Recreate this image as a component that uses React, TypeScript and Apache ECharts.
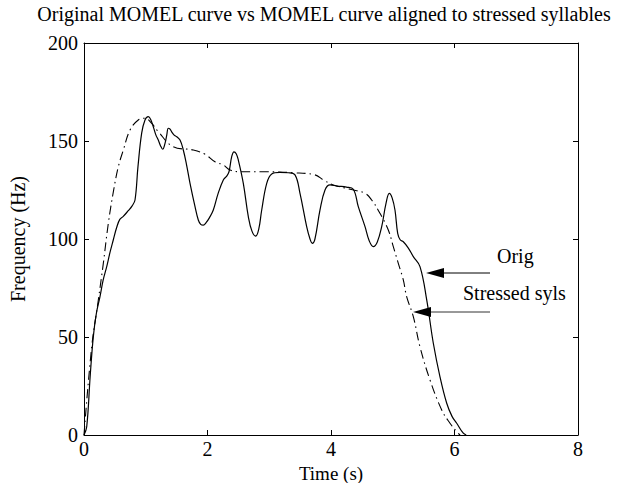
import React, { useEffect, useRef } from "react";
import * as echarts from "echarts";

const titleText = "Original MOMEL curve vs MOMEL curve aligned to stressed syllables";
const xTicks = [0, 2, 4, 6, 8];
const yTicks = [0, 50, 100, 150, 200];

// Original MOMEL curve (solid)
const origX = [0, 0.044, 0.1, 0.151, 0.2, 0.259, 0.31, 0.368, 0.42, 0.474, 0.53, 0.58, 0.632, 0.713, 0.777, 0.826, 0.874, 0.934, 0.988, 1.041, 1.08, 1.122, 1.165, 1.203, 1.24, 1.274, 1.312, 1.34, 1.365, 1.39, 1.42, 1.46, 1.501, 1.555, 1.608, 1.66, 1.717, 1.798, 1.851, 1.89, 1.932, 1.98, 2.03, 2.094, 2.17, 2.256, 2.311, 2.348, 2.392, 2.429, 2.465, 2.499, 2.58, 2.661, 2.72, 2.781, 2.83, 2.878, 2.959, 3.04, 3.17, 3.309, 3.417, 3.498, 3.606, 3.66, 3.697, 3.74, 3.822, 3.903, 3.984, 4.1, 4.25, 4.361, 4.442, 4.551, 4.62, 4.685, 4.75, 4.821, 4.89, 4.944, 4.99, 5.036, 5.08, 5.12, 5.171, 5.25, 5.333, 5.441, 5.55, 5.657, 5.765, 5.874, 5.96, 6.036, 6.142, 6.19];
const origY = [0, 4.2, 30, 50.2, 62, 70.6, 79, 85.9, 93, 99.5, 106, 110, 111.4, 114.3, 116.8, 119.9, 136.9, 154, 160.7, 162.4, 161, 157.3, 153, 150.5, 147.5, 145.8, 148.8, 153, 156.5, 156.2, 154.7, 153, 152.2, 150.5, 145.4, 138, 128.4, 116.5, 109.7, 107.5, 107.1, 108.5, 110.8, 114.8, 123, 130.1, 132.1, 134.3, 142, 144.5, 143.5, 140.3, 128.4, 111.4, 104, 101.5, 105, 114.8, 128.4, 133.2, 134, 133.8, 132.7, 123.3, 106.3, 100, 97.8, 100, 114.8, 125, 127.6, 127, 126.5, 125.4, 116.5, 106.3, 99, 96.1, 98.5, 106.3, 118, 123.3, 121, 114.8, 102.9, 99.6, 98.6, 95.5, 91, 85.9, 68.9, 46.8, 29.7, 16.2, 9.5, 6, 0.9, 0];

// MOMEL curve aligned to stressed syllables (dash-dot)
const stressX = [0, 0.125, 0.232, 0.313, 0.394, 0.475, 0.556, 0.637, 0.745, 0.879, 0.988, 1.096, 1.204, 1.446, 1.77, 1.96, 2.121, 2.256, 2.364, 2.553, 2.904, 3.39, 3.741, 3.876, 4.037, 4.308, 4.551, 4.659, 4.793, 4.928, 5.009, 5.09, 5.171, 5.225, 5.333, 5.441, 5.603, 5.793, 5.927, 6.036, 6.09];
const stressY = [0, 45, 68.9, 87.6, 108, 124, 136.9, 145.4, 155.6, 160.7, 161.6, 159, 154.7, 147.1, 145.4, 143.2, 139.4, 137.8, 135.2, 134.3, 134.3, 133.8, 132.7, 130.1, 127.6, 125.4, 123.3, 119.9, 113.1, 104.6, 96.1, 87.6, 79.1, 70.6, 60.4, 45, 28.1, 12.8, 6, 1.7, 0];

const FONT = '"Liberation Serif", "Times New Roman", serif';

export default function App() {
  const ref = useRef<HTMLDivElement>(null);
  useEffect(() => {
    if (!ref.current) return;
    const chart = echarts.init(ref.current, null, { renderer: "svg" });
    const orig = origX.map((x, i) => [x, origY[i]]);
    const stress = stressX.map((x, i) => [x, stressY[i]]);
    const axisCommon = {
      type: "value" as const,
      axisLine: { show: true, onZero: false, lineStyle: { color: "#000", width: 1 } },
      axisTick: { show: true, inside: true, length: 5, lineStyle: { color: "#000" } },
      splitLine: { show: false },
    };
    chart.setOption({
      animation: false,
      backgroundColor: "#fff",
      textStyle: { fontFamily: FONT },
      grid: { left: 84, right: 46, top: 43, bottom: 48, containLabel: false },
      xAxis: [
        {
          ...axisCommon,
          min: xTicks[0], max: xTicks[xTicks.length - 1], interval: 2,
          position: "bottom",
          axisLabel: { color: "#000", fontSize: 20, fontFamily: FONT, margin: 5, lineHeight: 18 },
        },
        {
          ...axisCommon,
          min: xTicks[0], max: xTicks[xTicks.length - 1], interval: 2,
          position: "top",
          axisLabel: { show: false },
        },
      ],
      yAxis: [
        {
          ...axisCommon,
          min: yTicks[0], max: yTicks[yTicks.length - 1], interval: 50,
          position: "left",
          axisLabel: { color: "#000", fontSize: 20, fontFamily: FONT, margin: 6 },
        },
        {
          ...axisCommon,
          min: yTicks[0], max: yTicks[yTicks.length - 1], interval: 50,
          position: "right",
          axisLabel: { show: false },
        },
      ],
      series: [
        {
          name: "Orig",
          type: "line",
          data: orig,
          showSymbol: false,
          smooth: 0.4,
          lineStyle: { color: "#000", width: 1.2 },
        },
        {
          name: "Stressed syls",
          type: "line",
          data: stress,
          showSymbol: false,
          smooth: 0.4,
          lineStyle: { color: "#000", width: 1.1, type: [9, 4, 1.5, 4] },
        },
      ],
      graphic: [
        {
          type: "text",
          x: 324, y: 14,
          style: { text: titleText, fill: "#000", font: `20px ${FONT}`, textAlign: "center", textVerticalAlign: "middle" },
        },
        {
          type: "text",
          x: 331, y: 473,
          style: { text: "Time (s)", fill: "#000", font: `19px ${FONT}`, textAlign: "center", textVerticalAlign: "middle" },
        },
        {
          type: "text",
          x: 18, y: 239, rotation: Math.PI / 2,
          style: { text: "Frequency (Hz)", fill: "#000", font: `20px ${FONT}`, textAlign: "center", textVerticalAlign: "middle" },
        },
        {
          type: "text",
          x: 497, y: 256,
          style: { text: "Orig", fill: "#000", font: `20px ${FONT}`, textAlign: "left", textVerticalAlign: "middle" },
        },
        {
          type: "text",
          x: 463, y: 293,
          style: { text: "Stressed syls", fill: "#000", font: `20px ${FONT}`, textAlign: "left", textVerticalAlign: "middle" },
        },
        {
          type: "line",
          shape: { x1: 440, y1: 273, x2: 490, y2: 273 },
          style: { stroke: "#000", lineWidth: 1 },
        },
        {
          type: "polygon",
          shape: { points: [[426, 273], [444, 268], [444, 278]] },
          style: { fill: "#000" },
        },
        {
          type: "line",
          shape: { x1: 428, y1: 312, x2: 490, y2: 312 },
          style: { stroke: "#333", lineWidth: 1 },
        },
        {
          type: "polygon",
          shape: { points: [[413, 312], [431, 307], [431, 317]] },
          style: { fill: "#000" },
        },
      ],
    });
    return () => chart.dispose();
  }, []);
  return (
    <div
      ref={ref}
      style={{ position: "absolute", left: 0, top: 0, width: 624, height: 483 }}
    />
  );
}
